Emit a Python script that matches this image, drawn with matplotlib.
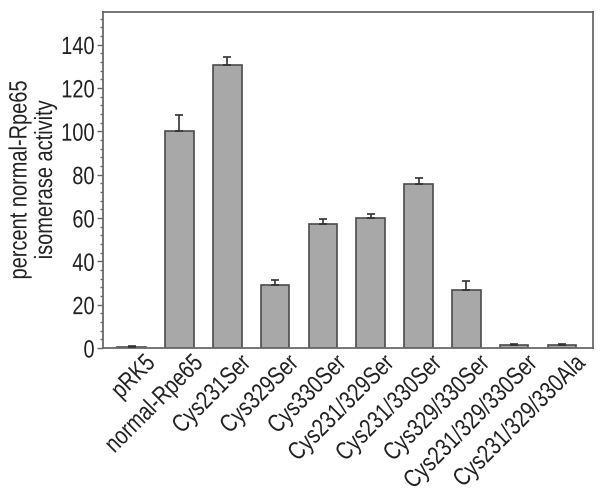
import numpy as np
import matplotlib
matplotlib.use("Agg")
import matplotlib.pyplot as plt
import matplotlib.text as mtext
from matplotlib.ticker import MultipleLocator
from matplotlib.patheffects import AbstractPathEffect
from matplotlib.transforms import Affine2D, ScaledTranslation

# data
labels = ["pRK5", "normal-Rpe65", "Cys231Ser", "Cys329Ser", "Cys330Ser",
          "Cys231/329Ser", "Cys231/330Ser", "Cys329/330Ser",
          "Cys231/329/330Ser", "Cys231/329/330Ala"]
activity = [0.5, 100, 130.4, 29, 57, 59.8, 75.7, 26.7, 1.4, 1.3]
err_up = [0.2, 7.6, 3.8, 2.3, 2.3, 1.9, 2.8, 4.3, 0.4, 0.7]

SX = 0.8  # the original uses a condensed font; fake it by squeezing glyphs

# make the text layout use the squeezed widths too
_metrics = mtext._get_text_metrics_with_cache
def _narrow_metrics(renderer, text, fontprop, ismath, dpi):
    w, h, d = _metrics(renderer, text, fontprop, ismath, dpi)
    return w * SX, h, d
mtext._get_text_metrics_with_cache = _narrow_metrics


class Narrow(AbstractPathEffect):
    def draw_path(self, renderer, gc, tpath, affine, rgbFace=None):
        renderer.draw_path(gc, tpath, Affine2D().scale(SX, 1) + affine, rgbFace)


plt.rcParams['font.family'] = ['Liberation Sans', 'DejaVu Sans']
txt_col = "#222222"
fs = 18

fig = plt.figure(figsize=(6.01, 4.95), dpi=100)
ax = fig.add_axes([103/601, 1-348/495, (593-103)/601, (348-12)/495])

x = np.arange(len(labels))
ax.bar(x, activity, width=0.6, color="#a8a8a8", edgecolor="#4d4d4d", linewidth=1.2, zorder=2)
ax.errorbar(x, activity, yerr=[np.zeros(len(err_up)), err_up], fmt="none",
            ecolor="#333333", elinewidth=1.2, capsize=3, capthick=1.2, zorder=3)

ax.set_xlim(-0.6, 9.65)
ax.set_ylim(0, 155)
ax.yaxis.set_major_locator(MultipleLocator(20))
ax.yaxis.set_minor_locator(MultipleLocator(4))
ax.tick_params(axis="y", which="major", length=4, width=1, color="#666666",
               labelsize=fs, labelcolor=txt_col, pad=2)
ax.tick_params(axis="y", which="minor", length=2.5, width=1, color="#666666")
ax.tick_params(axis="x", length=0, labelsize=fs, labelcolor=txt_col, pad=2)
ax.set_xticks(x)
ax.set_xticklabels(labels, rotation=45, ha="right", rotation_mode="anchor")

for s in ax.spines.values():
    s.set_color("#6a6a6a")
    s.set_linewidth(1.3)

ax.set_ylabel("percent normal-Rpe65\nisomerase activity", fontsize=fs, color=txt_col,
              linespacing=1.08, labelpad=3)

fig.canvas.draw()
shift = ScaledTranslation(11/100, 0, fig.dpi_scale_trans)
for t in ax.get_xticklabels():
    t.set_transform(t.get_transform() + shift)
    t.set_path_effects([Narrow()])
for t in ax.get_yticklabels():
    t.set_path_effects([Narrow()])
ax.yaxis.label.set_path_effects([Narrow()])

fig.savefig("out.png", dpi=100)
